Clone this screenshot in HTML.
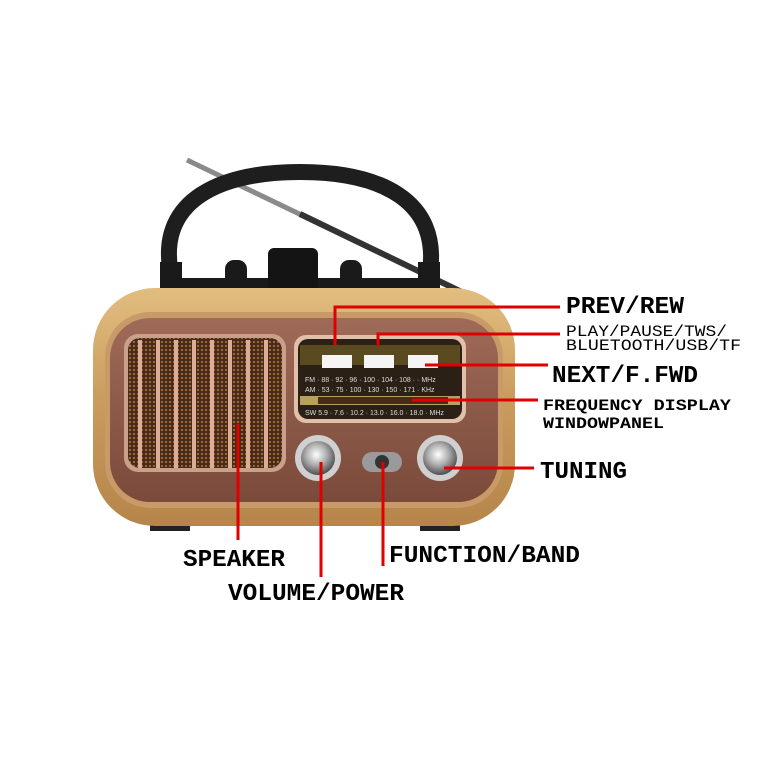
<!DOCTYPE html>
<html><head><style>html,body{margin:0;padding:0;background:#fff}svg{display:block}</style></head>
<body>
<svg width="778" height="781" viewBox="0 0 778 781" xmlns="http://www.w3.org/2000/svg">
<defs>
<linearGradient id="gold" x1="0" y1="0" x2="0" y2="1">
<stop offset="0" stop-color="#e2bd80"/><stop offset="0.5" stop-color="#c89a5c"/><stop offset="1" stop-color="#b5854a"/></linearGradient>
<linearGradient id="brown" x1="0" y1="0" x2="0" y2="1">
<stop offset="0" stop-color="#a06a58"/><stop offset="1" stop-color="#7a4a3a"/></linearGradient>
<radialGradient id="knob" cx="0.45" cy="0.4" r="0.6">
<stop offset="0" stop-color="#ffffff"/><stop offset="0.5" stop-color="#b0b0b0"/><stop offset="1" stop-color="#505050"/></radialGradient>
<pattern id="mesh" width="4" height="4" patternUnits="userSpaceOnUse"><rect width="4" height="4" fill="#4a2a18"/><circle cx="2" cy="2" r="1" fill="#b07a40"/></pattern>
</defs>
<!-- antenna -->
<line x1="187" y1="160" x2="470" y2="296" stroke="#8a8a8a" stroke-width="5"/>
<line x1="300" y1="214" x2="470" y2="296" stroke="#333" stroke-width="6"/>
<!-- handle -->
<path d="M170 268 C160 200 220 172 300 172 C380 172 440 200 430 272" fill="none" stroke="#1e1e1e" stroke-width="16"/>
<!-- mount -->
<rect x="160" y="262" width="22" height="30" fill="#1a1a1a"/>
<rect x="418" y="262" width="22" height="30" fill="#1a1a1a"/>
<rect x="160" y="278" width="280" height="14" fill="#1a1a1a"/>
<rect x="225" y="260" width="22" height="30" rx="9" fill="#1a1a1a"/>
<rect x="268" y="248" width="50" height="44" rx="6" fill="#141414"/>
<rect x="340" y="260" width="22" height="30" rx="9" fill="#1a1a1a"/>
<!-- feet -->
<rect x="150" y="515" width="40" height="16" fill="#222"/>
<rect x="420" y="515" width="40" height="16" fill="#222"/>
<!-- body -->
<rect x="93" y="288" width="422" height="238" rx="62" fill="url(#gold)"/>
<rect x="105" y="312" width="398" height="196" rx="45" fill="#c79a68"/>
<rect x="110" y="318" width="388" height="184" rx="40" fill="url(#brown)"/>
<!-- speaker -->
<rect x="124" y="334" width="162" height="138" rx="14" fill="#caa08a"/>
<rect x="128" y="338" width="154" height="130" rx="12" fill="url(#mesh)"/>
<g fill="#dcae98">
<rect x="138" y="340" width="4" height="128"/><rect x="156" y="340" width="4" height="128"/>
<rect x="174" y="340" width="4" height="128"/><rect x="192" y="340" width="4" height="128"/>
<rect x="210" y="340" width="4" height="128"/><rect x="228" y="340" width="4" height="128"/>
<rect x="246" y="340" width="4" height="128"/><rect x="264" y="340" width="4" height="128"/>
</g>
<!-- dial window -->
<rect x="294" y="335" width="172" height="88" rx="12" fill="#e0c0a8"/>
<rect x="298" y="339" width="164" height="80" rx="10" fill="#2a2016"/>
<rect x="300" y="345" width="160" height="20" fill="#5a4a20"/>
<rect x="322" y="355" width="30" height="13" fill="#f4f4f4"/>
<rect x="364" y="355" width="30" height="13" fill="#f4f4f4"/>
<rect x="408" y="355" width="30" height="13" fill="#f4f4f4"/>
<text x="305" y="382" font-family="Liberation Sans" font-size="7" fill="#ddd">FM · 88 · 92 · 96 · 100 · 104 · 108 · · MHz</text>
<text x="305" y="392" font-family="Liberation Sans" font-size="7" fill="#ddd">AM · 53 · 75 · 100 · 130 · 150 · 171 · KHz</text>
<rect x="300" y="396" width="160" height="9" fill="#b8a060"/>
<rect x="318" y="397" width="130" height="7" fill="#4a2a18"/>
<text x="305" y="415" font-family="Liberation Sans" font-size="7" fill="#ddd">SW 5.9 · 7.6 · 10.2 · 13.0 · 16.0 · 18.0 · MHz</text>
<!-- knobs -->
<circle cx="318" cy="458" r="23" fill="#d0d0d0"/><circle cx="318" cy="458" r="17" fill="url(#knob)"/>
<circle cx="440" cy="458" r="23" fill="#d0d0d0"/><circle cx="440" cy="458" r="17" fill="url(#knob)"/>
<rect x="362" y="452" width="40" height="20" rx="10" fill="#9a9a9a"/>
<circle cx="382" cy="462" r="7" fill="#333"/>
<!-- red connectors -->
<g stroke="#e00000" stroke-width="3" fill="none">
<polyline points="335,345 335,307 560,307"/>
<polyline points="378,346 378,334 560,334"/>
<line x1="425" y1="365" x2="548" y2="365"/>
<line x1="412" y1="400" x2="538" y2="400"/>
<line x1="444" y1="468" x2="534" y2="468"/>
<line x1="238" y1="424" x2="238" y2="540"/>
<line x1="321" y1="462" x2="321" y2="577"/>
<line x1="383" y1="462" x2="383" y2="566"/>
</g>
<!-- labels -->
<g font-family="Liberation Mono, monospace" font-weight="bold" fill="#000">
<text x="566" y="313" font-size="24" textLength="118" lengthAdjust="spacingAndGlyphs">PREV/REW</text>
<text x="566" y="336" font-size="16" font-weight="normal" textLength="161" lengthAdjust="spacingAndGlyphs">PLAY/PAUSE/TWS/</text>
<text x="566" y="350" font-size="16" font-weight="normal" textLength="175" lengthAdjust="spacingAndGlyphs">BLUETOOTH/USB/TF</text>
<text x="552" y="382" font-size="24" textLength="146" lengthAdjust="spacingAndGlyphs">NEXT/F.FWD</text>
<text x="543" y="410" font-size="16" textLength="188" lengthAdjust="spacingAndGlyphs">FREQUENCY DISPLAY</text>
<text x="543" y="428" font-size="16" textLength="121" lengthAdjust="spacingAndGlyphs">WINDOWPANEL</text>
<text x="540" y="478" font-size="24" textLength="87" lengthAdjust="spacingAndGlyphs">TUNING</text>
<text x="183" y="566" font-size="24" textLength="102" lengthAdjust="spacingAndGlyphs">SPEAKER</text>
<text x="389" y="562" font-size="24" textLength="191" lengthAdjust="spacingAndGlyphs">FUNCTION/BAND</text>
<text x="228" y="600" font-size="24" textLength="176" lengthAdjust="spacingAndGlyphs">VOLUME/POWER</text>
</g>
</svg>
</body></html>
